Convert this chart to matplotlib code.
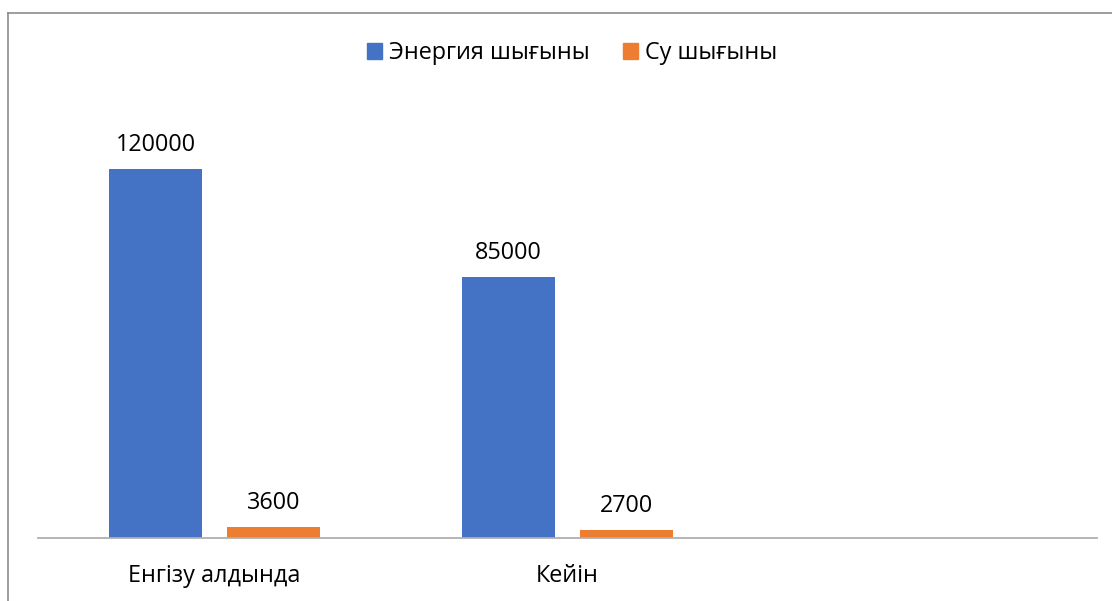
import matplotlib
matplotlib.use("Agg")
import matplotlib.pyplot as plt
from matplotlib.lines import Line2D
from matplotlib.patches import Patch

plt.rcParams["font.family"] = ["Open Sans", "Noto Sans", "DejaVu Sans"]

# ---- data ----
categories = ["Енгізу алдында", "Кейін", ""]
series_names = ["Энергия шығыны", "Су шығыны"]
energy = [120000, 85000, None]
water = [3600, 2700, None]
colors = ["#4472C4", "#ED7D31"]

W, H, DPI = 1112, 601, 100
FS = 16.8
fig = plt.figure(figsize=(W / DPI, H / DPI), dpi=DPI)
ax = fig.add_axes([38 / W, 1 - 538 / H, (1097 - 38) / W, (538 - 107.5) / H])

width, off = 0.266, 0.167
for vals, dx, c in [(energy, -off, colors[0]), (water, off, colors[1])]:
    for i, v in enumerate(vals):
        if v is None:
            continue
        ax.bar(i + dx, v, width=width, color=c, zorder=2)
        ax.annotate(f"{v}", (i + dx, v), xytext=(0, 13), textcoords="offset points",
                    ha="center", va="baseline", fontsize=FS, color="black")

for i, lab in enumerate(categories):
    ax.annotate(lab, (i, 0), xycoords=("data", "axes fraction"), xytext=(0, -31.5),
                textcoords="offset points", ha="center", va="baseline",
                fontsize=FS, color="black")

ax.set_xlim(-0.5, 2.5)
ax.set_ylim(0, 140000)
ax.set_xticks([])
ax.set_yticks([])
for s in ["top", "right", "left"]:
    ax.spines[s].set_visible(False)
ax.spines["bottom"].set_color("#B0B0B0")
ax.spines["bottom"].set_linewidth(1.3)

handles = [Patch(color=c) for c in colors]
fig.legend(handles, series_names, loc="center", bbox_to_anchor=(572 / W, 1 - 53 / H),
           ncol=2, frameon=False, fontsize=FS, handlelength=0.65, handleheight=0.65,
           handletextpad=0.3, columnspacing=1.4)

# outer chart border (only left and top edges visible in the crop)
fig.add_artist(Line2D([8 / W, 8 / W], [0, 1 - 13 / H], transform=fig.transFigure,
                      color="#8C8C8C", lw=1.2))
fig.add_artist(Line2D([8 / W, 1], [1 - 13 / H, 1 - 13 / H], transform=fig.transFigure,
                      color="#8C8C8C", lw=1.2))

fig.savefig("out.png", dpi=DPI)
